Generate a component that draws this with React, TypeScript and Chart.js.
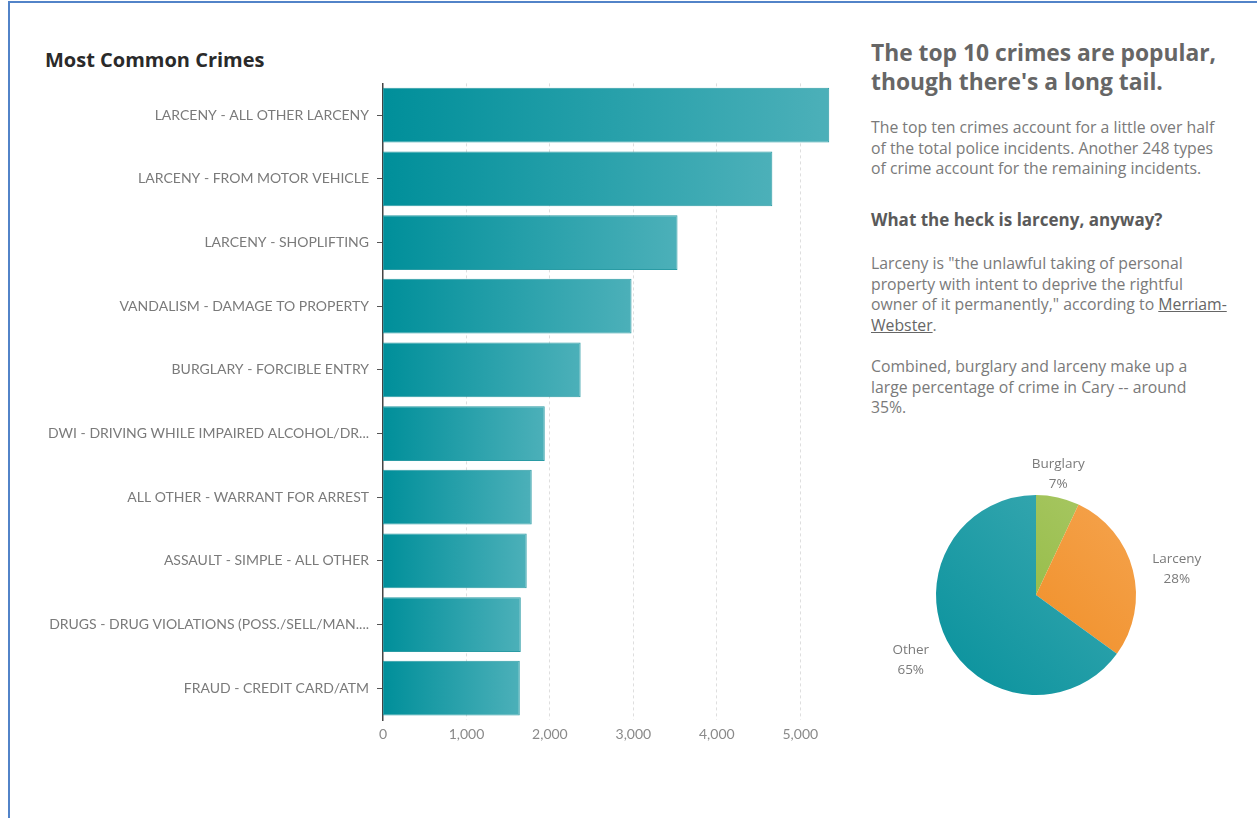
import React, { useEffect, useRef } from "react";
import { Chart, registerables } from "chart.js";

Chart.register(...registerables);

const crimeCategories = [
  "LARCENY - ALL OTHER LARCENY",
  "LARCENY - FROM MOTOR VEHICLE",
  "LARCENY - SHOPLIFTING",
  "VANDALISM - DAMAGE TO PROPERTY",
  "BURGLARY - FORCIBLE ENTRY",
  "DWI - DRIVING WHILE IMPAIRED ALCOHOL/DR...",
  "ALL OTHER - WARRANT FOR ARREST",
  "ASSAULT - SIMPLE - ALL OTHER",
  "DRUGS - DRUG VIOLATIONS (POSS./SELL/MAN....",
  "FRAUD - CREDIT CARD/ATM",
];
const crimeCounts = [5347, 4665, 3529, 2978, 2368, 1938, 1782, 1722, 1651, 1639];
const xTickValues = [0, 1000, 2000, 3000, 4000, 5000];

const pieLabels = ["Burglary", "Larceny", "Other"];
const pieValues = [7, 28, 65];
const pieColorsLight = ["#abc968", "#f5a44f", "#40abb3"];
const pieColorsDark = ["#86b330", "#ee8515", "#07919c"];

const FONT = "'Open Sans', Lato, sans-serif";
const AXIS_FONT = "Lato, 'Open Sans', sans-serif";

function BarChart() {
  const ref = useRef<HTMLCanvasElement>(null);
  useEffect(() => {
    const canvas = ref.current!;
    const chart = new Chart(canvas, {
      type: "bar",
      data: {
        labels: crimeCategories,
        datasets: [
          {
            data: crimeCounts,
            backgroundColor: (ctx: any) => {
              const c = ctx.chart;
              if (!c.chartArea || ctx.raw == null) return "#1a9ba5";
              const xs = c.scales.x;
              const x0 = xs.getPixelForValue(0);
              const x1 = xs.getPixelForValue(ctx.raw);
              const g = c.ctx.createLinearGradient(x0, 0, x1, 0);
              g.addColorStop(0, "#008f9a");
              g.addColorStop(1, "#4cb0b9");
              return g;
            },
            borderColor: "#2a9ba4",
            borderWidth: 1,
            borderSkipped: false,
            categoryPercentage: 0.86,
            barPercentage: 1,
          },
        ],
      },
      options: {
        indexAxis: "y",
        animation: false,
        responsive: false,
        maintainAspectRatio: false,
        layout: { padding: 0 },
        plugins: { legend: { display: false }, tooltip: { enabled: false } },
        scales: {
          x: {
            type: "linear",
            min: 0,
            max: 5380,
            afterBuildTicks: (scale: any) => {
              scale.ticks = xTickValues.map((v) => ({ value: v }));
            },
            afterFit: (scale: any) => {
              scale.height = 28;
            },
            ticks: {
              color: "#8a8a8a",
              font: { family: AXIS_FONT, size: 14 },
              padding: 6,
              callback: (v: any) => Number(v).toLocaleString("en-US"),
            },
            grid: {
              color: "#dedede",
              drawTicks: false,
              lineWidth: (ctx: any) => (ctx.tick && ctx.tick.value === 0 ? 0 : 1),
            },
            border: { display: false, dash: [3, 3] },
          },
          y: {
            afterFit: (scale: any) => {
              scale.width = 353;
            },
            ticks: {
              color: "#7a7a7a",
              font: { family: AXIS_FONT, size: 14 },
              padding: 8,
            },
            grid: {
              offset: false,
              drawOnChartArea: false,
              drawTicks: true,
              tickLength: 6,
              color: "#555555",
            },
            border: { display: true, color: "#444444", width: 1.5 },
          },
        },
      },
    } as any);
    return () => chart.destroy();
  }, []);
  return (
    <canvas
      ref={ref}
      width={802}
      height={681}
      style={{ position: "absolute", left: 30, top: 67, width: 802, height: 681 }}
    />
  );
}

const pieLabelPlugin = {
  id: "pieLabels",
  afterDraw(chart: any) {
    const ctx = chart.ctx;
    const meta = chart.getDatasetMeta(0);
    const data = chart.data.datasets[0].data as number[];
    const total = data.reduce((a: number, b: number) => a + b, 0);
    ctx.save();
    ctx.font = `13.5px ${FONT}`;
    ctx.fillStyle = "#7a7a7a";
    ctx.textAlign = "center";
    ctx.textBaseline = "middle";
    meta.data.forEach((arc: any, i: number) => {
      const { x, y, startAngle, endAngle, outerRadius } = arc.getProps(
        ["x", "y", "startAngle", "endAngle", "outerRadius"],
        true
      );
      const mid = (startAngle + endAngle) / 2;
      const l1 = chart.data.labels[i];
      const l2 = Math.round((data[i] / total) * 100) + "%";
      const w = Math.max(ctx.measureText(l1).width, ctx.measureText(l2).width);
      const hw = w / 2;
      const c = Math.cos(mid);
      const s = Math.sin(mid);
      const d = outerRadius + 20;
      const px = x + c * d;
      const py = y + s * d;
      const sx = Math.abs(c) < 0.3 ? 0 : Math.sign(c);
      const cx = px + sx * hw - (sx === 0 ? 4 : 0);
      const cy = py + 6 + 10 * s;
      ctx.fillText(l1, cx, cy - 10);
      ctx.fillText(l2, cx, cy + 10);
    });
    ctx.restore();
  },
};

function PieChart() {
  const ref = useRef<HTMLCanvasElement>(null);
  useEffect(() => {
    const canvas = ref.current!;
    const chart = new Chart(canvas, {
      type: "pie",
      data: {
        labels: pieLabels,
        datasets: [
          {
            data: pieValues,
            backgroundColor: (ctx: any) => {
              const c = ctx.chart;
              const a = c.chartArea;
              const i = ctx.dataIndex;
              if (!a) return pieColorsDark[i];
              const g = c.ctx.createLinearGradient(a.right, a.top, a.left, a.bottom);
              g.addColorStop(0, pieColorsLight[i]);
              g.addColorStop(1, pieColorsDark[i]);
              return g;
            },
            borderWidth: 0,
          },
        ],
      },
      options: {
        animation: false,
        responsive: false,
        maintainAspectRatio: false,
        layout: { padding: { left: 66, right: 66, top: 55, bottom: 55 } },
        plugins: { legend: { display: false }, tooltip: { enabled: false } },
      },
      plugins: [pieLabelPlugin],
    } as any);
    return () => chart.destroy();
  }, []);
  return (
    <canvas
      ref={ref}
      width={332}
      height={310}
      style={{ position: "absolute", left: 870, top: 440, width: 332, height: 310 }}
    />
  );
}

export default function App() {
  const gray = "#7a7a7a";
  const para: React.CSSProperties = {
    position: "absolute",
    left: 871,
    width: 380,
    fontFamily: FONT,
    fontSize: 15.8,
    lineHeight: "20.5px",
    color: gray,
    margin: 0,
  };
  return (
    <div
      style={{
        position: "absolute",
        left: 0,
        top: 0,
        width: 1257,
        height: 818,
        overflow: "hidden",
        background: "#ffffff",
      }}
    >
      <div
        style={{
          position: "absolute",
          left: 8,
          top: 1,
          width: 1300,
          height: 900,
          borderTop: "2px solid #5283c8",
          borderLeft: "2px solid #5283c8",
        }}
      />
      <div
        style={{
          position: "absolute",
          left: 45,
          top: 48,
          fontFamily: FONT,
          fontWeight: 700,
          fontSize: 20,
          lineHeight: "24px",
          color: "#2a2a2a",
          whiteSpace: "nowrap",
        }}
      >
        Most Common Crimes
      </div>
      <BarChart />
      <div
        style={{
          position: "absolute",
          left: 871,
          top: 38,
          fontFamily: FONT,
          fontWeight: 700,
          fontSize: 22.8,
          lineHeight: "29px",
          color: "#666666",
          whiteSpace: "nowrap",
        }}
      >
        The top 10 crimes are popular,
        <br />
        though there's a long tail.
      </div>
      <p style={{ ...para, top: 117, whiteSpace: "nowrap" }}>
        The top ten crimes account for a little over half
        <br />
        of the total police incidents. Another 248 types
        <br />
        of crime account for the remaining incidents.
      </p>
      <div
        style={{
          position: "absolute",
          left: 871,
          top: 209,
          fontFamily: FONT,
          fontWeight: 700,
          fontSize: 17,
          lineHeight: "22px",
          color: "#5a5a5a",
          whiteSpace: "nowrap",
        }}
      >
        What the heck is larceny, anyway?
      </div>
      <p style={{ ...para, top: 253, whiteSpace: "nowrap" }}>
        Larceny is "the unlawful taking of personal
        <br />
        property with intent to deprive the rightful
        <br />
        owner of it permanently," according to{" "}
        <span style={{ textDecoration: "underline", color: "#666" }}>Merriam-</span>
        <br />
        <span style={{ textDecoration: "underline", color: "#666" }}>Webster</span>.
      </p>
      <p style={{ ...para, top: 356, whiteSpace: "nowrap" }}>
        Combined, burglary and larceny make up a
        <br />
        large percentage of crime in Cary -- around
        <br />
        35%.
      </p>
      <PieChart />
    </div>
  );
}
